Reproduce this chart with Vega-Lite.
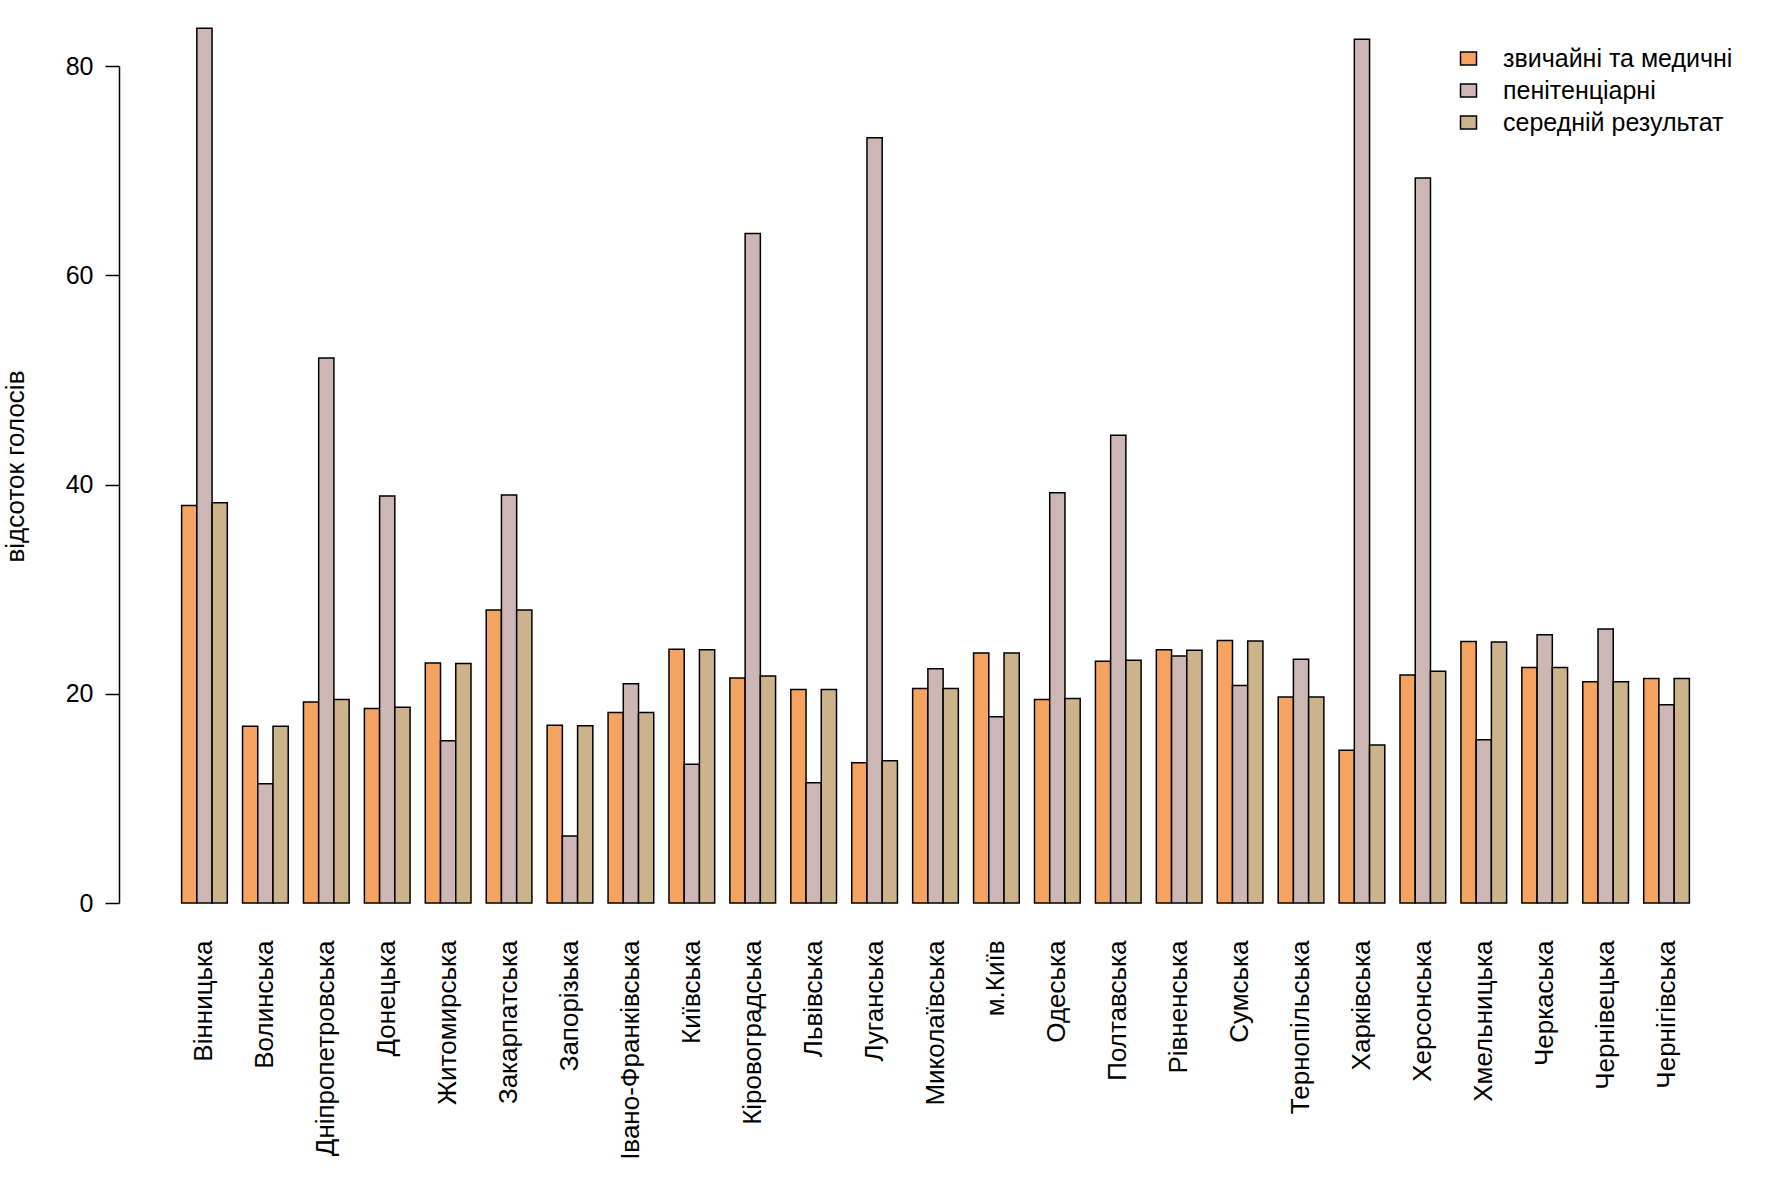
{
  "$schema": "https://vega.github.io/schema/vega-lite/v6.json",
  "autosize": {"type": "none"},
  "padding": {"left": 174, "top": 66, "right": 74, "bottom": 278},
  "width": 1523,
  "height": 837,
  "background": "white",
  "config": {
    "view": {"stroke": null},
    "font": "Liberation Sans",
    "axis": {"labelColor": "#000", "titleColor": "#000", "domainColor": "#000", "tickColor": "#000", "titleFontWeight": "normal"},
    "legend": {"labelColor": "#000"}
  },
  "datasets": {
    "d": [
      {"region": "Вінницька", "type": "звичайні та медичні", "value": 38.0},
      {"region": "Вінницька", "type": "пенітенціарні", "value": 83.6},
      {"region": "Вінницька", "type": "середній результат", "value": 38.25},
      {"region": "Волинська", "type": "звичайні та медичні", "value": 16.9},
      {"region": "Волинська", "type": "пенітенціарні", "value": 11.4},
      {"region": "Волинська", "type": "середній результат", "value": 16.9},
      {"region": "Дніпропетровська", "type": "звичайні та медичні", "value": 19.2},
      {"region": "Дніпропетровська", "type": "пенітенціарні", "value": 52.1},
      {"region": "Дніпропетровська", "type": "середній результат", "value": 19.45},
      {"region": "Донецька", "type": "звичайні та медичні", "value": 18.6},
      {"region": "Донецька", "type": "пенітенціарні", "value": 38.9},
      {"region": "Донецька", "type": "середній результат", "value": 18.7},
      {"region": "Житомирська", "type": "звичайні та медичні", "value": 22.95},
      {"region": "Житомирська", "type": "пенітенціарні", "value": 15.5},
      {"region": "Житомирська", "type": "середній результат", "value": 22.9},
      {"region": "Закарпатська", "type": "звичайні та медичні", "value": 28.0},
      {"region": "Закарпатська", "type": "пенітенціарні", "value": 39.0},
      {"region": "Закарпатська", "type": "середній результат", "value": 28.0},
      {"region": "Запорізька", "type": "звичайні та медичні", "value": 17.0},
      {"region": "Запорізька", "type": "пенітенціарні", "value": 6.4},
      {"region": "Запорізька", "type": "середній результат", "value": 16.95},
      {"region": "Івано-Франківська", "type": "звичайні та медичні", "value": 18.2},
      {"region": "Івано-Франківська", "type": "пенітенціарні", "value": 20.95},
      {"region": "Івано-Франківська", "type": "середній результат", "value": 18.2},
      {"region": "Київська", "type": "звичайні та медичні", "value": 24.25},
      {"region": "Київська", "type": "пенітенціарні", "value": 13.25},
      {"region": "Київська", "type": "середній результат", "value": 24.2},
      {"region": "Кіровоградська", "type": "звичайні та медичні", "value": 21.5},
      {"region": "Кіровоградська", "type": "пенітенціарні", "value": 64.0},
      {"region": "Кіровоградська", "type": "середній результат", "value": 21.7},
      {"region": "Львівська", "type": "звичайні та медичні", "value": 20.4},
      {"region": "Львівська", "type": "пенітенціарні", "value": 11.5},
      {"region": "Львівська", "type": "середній результат", "value": 20.4},
      {"region": "Луганська", "type": "звичайні та медичні", "value": 13.4},
      {"region": "Луганська", "type": "пенітенціарні", "value": 73.15},
      {"region": "Луганська", "type": "середній результат", "value": 13.6},
      {"region": "Миколаївська", "type": "звичайні та медичні", "value": 20.5},
      {"region": "Миколаївська", "type": "пенітенціарні", "value": 22.4},
      {"region": "Миколаївська", "type": "середній результат", "value": 20.5},
      {"region": "м.Київ", "type": "звичайні та медичні", "value": 23.9},
      {"region": "м.Київ", "type": "пенітенціарні", "value": 17.8},
      {"region": "м.Київ", "type": "середній результат", "value": 23.9},
      {"region": "Одеська", "type": "звичайні та медичні", "value": 19.45},
      {"region": "Одеська", "type": "пенітенціарні", "value": 39.2},
      {"region": "Одеська", "type": "середній результат", "value": 19.55},
      {"region": "Полтавська", "type": "звичайні та медичні", "value": 23.1},
      {"region": "Полтавська", "type": "пенітенціарні", "value": 44.7},
      {"region": "Полтавська", "type": "середній результат", "value": 23.2},
      {"region": "Рівненська", "type": "звичайні та медичні", "value": 24.2},
      {"region": "Рівненська", "type": "пенітенціарні", "value": 23.6},
      {"region": "Рівненська", "type": "середній результат", "value": 24.15},
      {"region": "Сумська", "type": "звичайні та медичні", "value": 25.1},
      {"region": "Сумська", "type": "пенітенціарні", "value": 20.8},
      {"region": "Сумська", "type": "середній результат", "value": 25.05},
      {"region": "Тернопільська", "type": "звичайні та медичні", "value": 19.7},
      {"region": "Тернопільська", "type": "пенітенціарні", "value": 23.3},
      {"region": "Тернопільська", "type": "середній результат", "value": 19.7},
      {"region": "Харківська", "type": "звичайні та медичні", "value": 14.6},
      {"region": "Харківська", "type": "пенітенціарні", "value": 82.55},
      {"region": "Харківська", "type": "середній результат", "value": 15.1},
      {"region": "Херсонська", "type": "звичайні та медичні", "value": 21.8},
      {"region": "Херсонська", "type": "пенітенціарні", "value": 69.3},
      {"region": "Херсонська", "type": "середній результат", "value": 22.15},
      {"region": "Хмельницька", "type": "звичайні та медичні", "value": 25.0},
      {"region": "Хмельницька", "type": "пенітенціарні", "value": 15.6},
      {"region": "Хмельницька", "type": "середній результат", "value": 24.95},
      {"region": "Черкаська", "type": "звичайні та медичні", "value": 22.5},
      {"region": "Черкаська", "type": "пенітенціарні", "value": 25.65},
      {"region": "Черкаська", "type": "середній результат", "value": 22.5},
      {"region": "Чернівецька", "type": "звичайні та медичні", "value": 21.15},
      {"region": "Чернівецька", "type": "пенітенціарні", "value": 26.2},
      {"region": "Чернівецька", "type": "середній результат", "value": 21.15},
      {"region": "Чернігівська", "type": "звичайні та медичні", "value": 21.45},
      {"region": "Чернігівська", "type": "пенітенціарні", "value": 18.95},
      {"region": "Чернігівська", "type": "середній результат", "value": 21.45}
    ]
  },
  "data": {"name": "d"},
  "mark": {"type": "bar", "stroke": "#000", "strokeWidth": 1.5, "clip": false},
  "encoding": {
    "x": {
      "field": "region",
      "type": "nominal",
      "sort": null,
      "scale": {"paddingInner": 0.25, "paddingOuter": 0.125},
      "axis": {
        "title": null,
        "domain": false,
        "ticks": false,
        "labelAngle": 270,
        "labelAlign": "right",
        "labelBaseline": "middle",
        "labelPadding": 37,
        "labelFontSize": 26,
        "labelOverlap": false,
        "labelLimit": 400
      }
    },
    "xOffset": {
      "field": "type",
      "type": "nominal",
      "sort": ["звичайні та медичні", "пенітенціарні", "середній результат"],
      "scale": {"paddingInner": 0, "paddingOuter": 0}
    },
    "y": {
      "field": "value",
      "type": "quantitative",
      "scale": {"domain": [0, 80], "nice": false, "zero": true},
      "axis": {
        "title": "відсоток голосів",
        "values": [0, 20, 40, 60, 80],
        "grid": false,
        "offset": 55,
        "tickSize": 14,
        "tickWidth": 1.5,
        "domainWidth": 1.5,
        "labelPadding": 12,
        "labelFontSize": 25,
        "titleFontSize": 26,
        "titlePadding": 37,
        "titleY": 400
      }
    },
    "fill": {
      "field": "type",
      "type": "nominal",
      "sort": ["звичайні та медичні", "пенітенціарні", "середній результат"],
      "scale": {
        "domain": ["звичайні та медичні", "пенітенціарні", "середній результат"],
        "range": ["#F4A460", "#CDB7B5", "#CDB38B"]
      },
      "legend": {
        "title": null,
        "orient": "none",
        "legendX": 1282,
        "legendY": -20,
        "symbolType": "M-1,-0.8H1V0.8H-1Z",
        "symbolSize": 256,
        "symbolStrokeColor": "#000",
        "symbolStrokeWidth": 1.5,
        "symbolOpacity": 1,
        "labelFontSize": 25,
        "labelOffset": 22,
        "rowPadding": 6,
        "labelLimit": 400
      }
    }
  }
}
